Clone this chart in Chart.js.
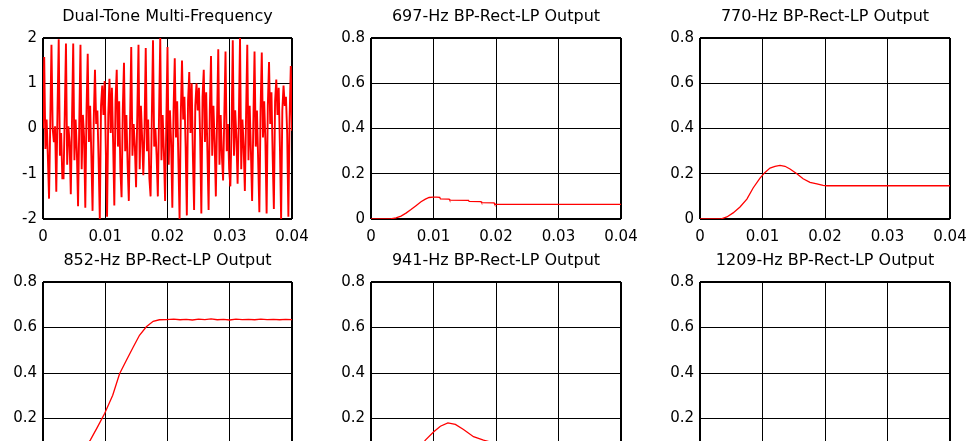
<!DOCTYPE html>
<html><head><meta charset="utf-8">
<script src="https://cdn.jsdelivr.net/npm/chart.js@4.4.1/dist/chart.umd.min.js"></script>
<style>
html,body{margin:0;padding:0;background:#fff;width:971px;height:441px;overflow:hidden;position:relative;}
canvas{position:absolute;}
</style></head><body>
<canvas id="c0"></canvas><canvas id="c1"></canvas><canvas id="c2"></canvas>
<canvas id="c3"></canvas><canvas id="c4"></canvas><canvas id="c5"></canvas>
<script>
// ---- data ----
const SAMPLE_PERIOD = 0.04 / 206; // seconds between DTMF samples
const dtmfValues = [
  0.0,
  1.58, -0.45, 0.20, -0.60, -1.55, 0.10,
  1.85, 0.00, -0.30, 0.05, -1.40, 0.40,
  1.97, -0.60, -0.10, -1.10, -1.10, 0.30,
  1.88, -0.80, 0.05, -0.30, -1.45, 0.20,
  1.88, -0.70, 0.20, -0.50, -1.72, 0.10,
  1.85, -0.90, 0.30, -0.20, -1.75, 0.40,
  1.65, -0.30, 0.50, -0.60, -1.82, 0.20,
  1.30, 0.10, 0.40, -0.70, -2.00, 0.50,
  0.95, 0.30, 1.05, -0.50, -1.95, 0.30,
  1.10, -0.10, 0.90, -0.30, -1.70, 0.60,
  1.30, -0.40, 0.60, -0.90, -1.52, 0.40,
  1.45, -0.50, 0.30, -0.80, -1.60, 0.10,
  1.80, -0.60, 0.10, -0.40, -1.30, 0.30,
  1.85, -0.90, 0.50, -0.20, -1.03, 0.00,
  1.78, -0.50, 0.20, -1.10, -1.50, 0.20,
  1.95, -0.40, 0.00, -0.60, -1.50, 0.30,
  2.00, -0.70, 0.30, -0.50, -1.60, 0.10,
  1.80, -0.80, 0.40, -0.30, -1.75, 0.40,
  1.55, -0.20, 0.60, -0.70, -2.00, 0.30,
  1.50, 0.20, 0.70, -0.40, -1.92, 0.60,
  1.25, -0.10, 1.00, -0.60, -1.80, 0.50,
  1.00, 0.40, 0.90, -0.20, -1.88, 0.70,
  1.30, -0.30, 0.80, -0.50, -1.80, 0.40,
  1.60, -0.60, 0.50, -0.30, -1.50, 0.20,
  1.75, -0.80, 0.30, -0.60, -1.15, 0.30,
  1.70, -0.50, 0.10, -0.90, -1.28, 0.00,
  1.95, -0.60, 0.40, -0.20, -1.22, 0.20,
  2.00, -0.90, 0.20, -0.40, -1.38, 0.30,
  1.85, -0.70, 0.50, -0.50, -1.60, 0.10,
  1.70, -0.40, 0.40, -0.70, -1.85, 0.40,
  1.68, -0.20, 0.60, -0.30, -1.88, 0.50,
  1.47, 0.10, 0.80, -0.60, -1.78, 0.60,
  1.08, 0.30, 0.90, -0.40, -2.00, 0.40,
  0.95, 0.50, 0.70, -0.10, -1.95, 0.20,
  1.38, -0.05
];

const t697 = [0, 0.0031, 0.004, 0.0048, 0.0056, 0.0064, 0.0072, 0.008, 0.0087, 0.0093, 0.0099, 0.0105, 0.0110, 0.0111, 0.0125, 0.0126, 0.0156, 0.0157, 0.0176, 0.0177, 0.0197, 0.0198, 0.04];
const v697 = [0, 0, 0.005, 0.013, 0.026, 0.042, 0.059, 0.076, 0.088, 0.095, 0.097, 0.097, 0.096, 0.089, 0.088, 0.083, 0.082, 0.078, 0.077, 0.072, 0.071, 0.065, 0.065];

const t770 = [0, 0.0033, 0.0043, 0.0053, 0.0064, 0.0075, 0.0085, 0.0096, 0.0104, 0.0112, 0.012, 0.0128, 0.0136, 0.0144, 0.0155, 0.0165, 0.0176, 0.0187, 0.0197, 0.0203, 0.04];
const v770 = [0, 0, 0.009, 0.027, 0.053, 0.088, 0.137, 0.181, 0.206, 0.225, 0.233, 0.237, 0.233, 0.221, 0.2, 0.178, 0.162, 0.155, 0.149, 0.147, 0.147];

const t852 = [0, 0.003, 0.004, 0.005, 0.006, 0.007, 0.0076, 0.0087, 0.0099, 0.0112, 0.0123, 0.0134, 0.0145, 0.0155, 0.0166, 0.0177, 0.0187, 0.0198,
  0.021, 0.022, 0.023, 0.024, 0.025, 0.026, 0.027, 0.028, 0.029, 0.030, 0.031, 0.032, 0.033, 0.034, 0.035, 0.036, 0.037, 0.038, 0.039, 0.040];
const v852 = [0, 0, 0.01, 0.03, 0.055, 0.083, 0.105, 0.16, 0.222, 0.302, 0.397, 0.456, 0.514, 0.566, 0.603, 0.627, 0.634, 0.635,
  0.637, 0.634, 0.636, 0.633, 0.637, 0.635, 0.638, 0.634, 0.636, 0.633, 0.637, 0.635, 0.636, 0.634, 0.637, 0.635, 0.636, 0.634, 0.636, 0.635];

const t941 = [0, 0.003, 0.004, 0.005, 0.006, 0.007, 0.008, 0.0087, 0.01, 0.0111, 0.0123, 0.0135, 0.0148, 0.0164, 0.018, 0.019, 0.02, 0.04];
const v941 = [0, 0, 0.005, 0.015, 0.03, 0.05, 0.078, 0.105, 0.141, 0.166, 0.181, 0.174, 0.152, 0.12, 0.105, 0.097, 0.094, 0.094];

const t1209 = [0, 0.04];
const v1209 = [0, 0];

const xTickValues = [0, 0.01, 0.02, 0.03, 0.04];
const xTickLabels = ['0', '0.01', '0.02', '0.03', '0.04'];
const dtmfYTicks = [-2, -1, 0, 1, 2];
const dtmfYLabels = ['-2', '-1', '0', '1', '2'];
const outYTicks = [0, 0.2, 0.4, 0.6, 0.8];
const outYLabels = ['0', '0.2', '0.4', '0.6', '0.8'];
const titles = ['Dual-Tone Multi-Frequency', '697-Hz BP-Rect-LP Output', '770-Hz BP-Rect-LP Output',
  '852-Hz BP-Rect-LP Output', '941-Hz BP-Rect-LP Output', '1209-Hz BP-Rect-LP Output'];

// ---- drawing ----
const FONT = 'DejaVu Sans';
function pairs(t, v) { return t.map((x, i) => ({ x: x, y: v[i] })); }

function makeChart(id, left, top, plotW, plotH, title, points, yTicks, yLabels, lineW) {
  const canvas = document.getElementById(id);
  const Y_AXIS_W = 43, TITLE_H = 38, X_AXIS_H = 30, PAD_R = 30;
  const w = Y_AXIS_W + plotW + PAD_R, h = TITLE_H + plotH + X_AXIS_H;
  canvas.width = w; canvas.height = h;
  canvas.style.left = left + 'px'; canvas.style.top = top + 'px';
  canvas.style.width = w + 'px'; canvas.style.height = h + 'px';
  const edgeW = (n) => (ctx) => (ctx.index === 0 || ctx.index === n - 1) ? 2 : 1;
  new Chart(canvas, {
    type: 'line',
    data: { datasets: [{ data: points, borderColor: '#ff0000', borderWidth: lineW, pointRadius: 0, fill: false, tension: 0 }] },
    options: {
      responsive: false, animation: false, devicePixelRatio: 1,
      layout: { padding: { left: 0, right: PAD_R, top: 0, bottom: 0 } },
      plugins: {
        legend: { display: false }, tooltip: { enabled: false },
        title: { display: true, fullSize: false, text: title, color: '#000', font: { family: FONT, size: 16, weight: 'normal' }, padding: { top: 7.5, bottom: 11.3 } }
      },
      scales: {
        x: {
          type: 'linear', min: 0, max: 0.04,
          afterBuildTicks: s => { s.ticks = xTickValues.map(v => ({ value: v })); },
          afterFit: s => { s.height = X_AXIS_H; },
          ticks: { callback: (v, i) => xTickLabels[i], autoSkip: false, maxRotation: 0, padding: 9, color: '#000', font: { family: FONT, size: 15 } },
          grid: { color: '#000', lineWidth: edgeW(xTickValues.length), drawTicks: false },
          border: { display: false }
        },
        y: {
          type: 'linear', min: yTicks[0], max: yTicks[yTicks.length - 1],
          afterBuildTicks: s => { s.ticks = yTicks.map(v => ({ value: v })); },
          afterFit: s => { s.width = Y_AXIS_W; },
          ticks: { callback: (v, i) => yLabels[i], autoSkip: false, padding: 6, color: '#000', font: { family: FONT, size: 15 } },
          grid: { color: '#000', lineWidth: edgeW(yTicks.length), drawTicks: false },
          border: { display: false }
        }
      }
    }
  });
}

const dtmfPoints = dtmfValues.map((v, i) => ({ x: i * SAMPLE_PERIOD, y: v }));
makeChart('c0', 0, 0, 249, 181, titles[0], dtmfPoints, dtmfYTicks, dtmfYLabels, 1.9);
makeChart('c1', 328, 0, 250, 181, titles[1], pairs(t697, v697), outYTicks, outYLabels, 1.3);
makeChart('c2', 657, 0, 250, 181, titles[2], pairs(t770, v770), outYTicks, outYLabels, 1.3);
makeChart('c3', 0, 244, 249, 182, titles[3], pairs(t852, v852), outYTicks, outYLabels, 1.3);
makeChart('c4', 328, 244, 250, 182, titles[4], pairs(t941, v941), outYTicks, outYLabels, 1.3);
makeChart('c5', 657, 244, 250, 182, titles[5], pairs(t1209, v1209), outYTicks, outYLabels, 1.3);
</script>
</body></html>
